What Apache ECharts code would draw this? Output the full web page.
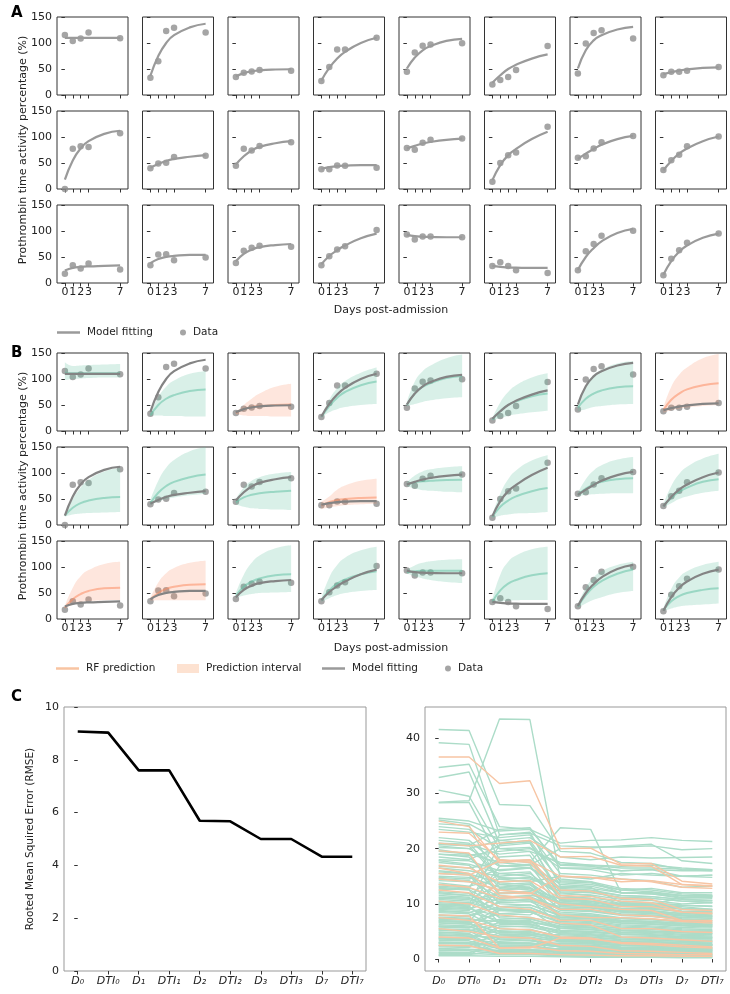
<!DOCTYPE html>
<html><head><meta charset="utf-8">
<script src="https://cdn.jsdelivr.net/npm/echarts@6/dist/echarts.min.js"></script>
<style>html,body{margin:0;padding:0;background:#fff}#c{width:730px;height:994px}</style>
</head><body><div id="c"></div>
<script>
// ---------- data ----------
const days = [0, 1, 2, 3, 7];
const fitX = [0, 1, 2, 3, 5, 7];
const dayTicks = [0, 1, 2, 3, 7];
const yTicks = [0, 50, 100, 150];

// 24 patients, row-major (3 rows x 8 columns); measured values at days 0,1,2,3,7
const dataPts = [
  [115.5, 104, 108.5, 120, 109], [33, 65, 123, 129.5, 120], [34.5, 43, 45, 48, 46.5], [27, 54, 87.5, 87.5, 110],
  [44.7, 81.7, 94.5, 97, 99.6], [20.4, 28.7, 34.5, 48, 94], [41.5, 99, 119, 124.5, 108.5], [38, 44.7, 44.7, 46.6, 54],
  [0, 77.5, 82, 80.6, 107], [39.7, 49, 50.4, 61.7, 64], [44.7, 77.5, 74, 82.5, 90], [37.8, 37.8, 45.4, 44.7, 41],
  [78.8, 75.6, 88.8, 94.5, 97], [13.9, 49.8, 65, 70, 119.7], [60, 63, 78, 90, 102], [36.5, 55.4, 66, 82, 101],
  [18, 34, 27.7, 37.4, 25.8], [34, 54.7, 55.4, 43.8, 49], [38.6, 61.8, 67.6, 71.5, 69.5], [34, 51.5, 64.4, 70.8, 101.8],
  [93.4, 83.7, 89.5, 89.5, 88.2], [32.8, 40, 32.8, 24.5, 19.3], [24.5, 61, 75, 91, 100.5], [14.8, 46.4, 63, 77.3, 95.3]
];
// model fitting curve read at fitX
const fitVals = [
  [110, 110, 110, 110, 110, 110], [37, 75, 100, 115, 130, 137], [36, 42, 45.5, 47.5, 49, 49.5], [28, 52, 70, 83, 100, 110],
  [51, 72, 86, 94, 104, 108], [23.5, 38, 50, 58, 70, 78], [51, 86, 105, 115, 126, 131], [40, 44, 47, 49, 52, 53],
  [18, 55, 78, 92, 106, 112], [41, 48, 54, 58, 62, 65], [47, 63, 74, 81, 88, 92], [39, 42, 44, 45, 46, 46],
  [78, 83, 87.5, 90.5, 94.5, 97], [17, 46, 65, 77, 96, 110], [58, 68, 77, 85, 96, 102], [36, 54, 68, 78, 92, 101],
  [24, 29, 31, 32, 33, 34], [38, 46, 50, 52, 54, 54], [42, 56, 64, 69, 73, 75], [36, 52, 63, 72, 86, 95],
  [93, 90, 89, 88.5, 88, 88], [33, 31, 30, 29.5, 29, 29], [25, 50, 67, 80, 96, 104], [16, 42, 60, 72, 87, 95]
];
const predColor = ['g','g','o','g','g','g','g','o', 'g','g','g','o','g','g','g','g', 'o','o','g','g','g','g','g','g'];
const predVals = [
  [112, 111, 111, 111, 111, 111], [30, 50, 62, 69, 77, 80], [35, 42, 46, 48, 50, 51], [27, 48, 64, 75, 88, 95],
  [50, 72, 85, 92, 102, 106], [22, 38, 50, 57, 67, 72], [45, 62, 72, 78, 84, 86], [40, 60, 72, 80, 88, 92],
  [18, 33, 42, 47, 52, 54], [42, 62, 75, 83, 92, 97], [44, 53, 58, 61, 64, 66], [38, 44, 48, 50, 52, 53],
  [78, 82, 84, 85, 86.5, 87], [16, 35, 47, 55, 65, 71], [58, 70, 78, 83, 88, 90], [36, 52, 64, 72, 83, 88],
  [22, 38, 48, 54, 59, 60], [38, 50, 58, 62, 66, 67], [45, 62, 72, 78, 84, 86], [36, 55, 68, 76, 86, 92],
  [90, 92, 93, 93, 93, 93], [33, 55, 68, 75, 84, 88], [24, 46, 62, 73, 87, 95], [17, 34, 44, 50, 56, 59]
];
const predLo = [
  [98, 100, 101, 102, 103, 103], [30, 30, 29, 29, 28, 28], [32, 30, 29, 29, 28, 28], [26, 36, 42, 46, 50, 52],
  [48, 52, 56, 59, 63, 65], [20, 25, 29, 32, 36, 39], [38, 42, 46, 48, 51, 52], [35, 40, 43, 45, 48, 50],
  [16, 20, 22, 23, 24, 25], [38, 45, 50, 53, 57, 60], [40, 35, 32, 31, 30, 29], [30, 34, 36, 38, 40, 41],
  [75, 70, 67, 66, 64, 63], [14, 18, 20, 22, 23, 25], [55, 58, 59, 60, 61, 61], [34, 42, 50, 55, 62, 66],
  [20, 28, 32, 34, 36, 36.5], [35, 36, 36, 36, 36, 36], [40, 45, 48, 50, 51, 52], [33, 40, 46, 50, 54, 56],
  [88, 82, 78, 75, 71, 69], [30, 33, 35, 36, 36.5, 36.5], [22, 30, 37, 42, 50, 54], [15, 20, 24, 26, 28, 30]
];
const predHi = [
  [132, 125, 126, 127, 128, 129], [35, 65, 85, 97, 110, 115], [35, 50, 62, 72, 85, 91], [28, 60, 82, 96, 112, 122],
  [55, 95, 115, 126, 140, 147], [25, 55, 75, 88, 103, 111], [55, 88, 108, 118, 130, 134], [45, 85, 108, 122, 140, 148],
  [22, 50, 72, 87, 103, 110], [48, 85, 110, 125, 142, 150], [50, 72, 85, 92, 99, 102], [45, 55, 68, 76, 85, 89],
  [82, 95, 103, 107, 111, 113], [20, 60, 88, 105, 124, 134], [62, 88, 105, 115, 126, 131], [40, 75, 98, 112, 128, 137],
  [25, 60, 82, 94, 106, 110], [40, 70, 88, 98, 108, 112], [50, 85, 108, 122, 136, 142], [40, 80, 104, 118, 132, 139],
  [95, 103, 108, 111, 114, 115], [38, 85, 110, 122, 134, 139], [28, 60, 80, 92, 104, 110], [20, 58, 80, 92, 104, 110]
];

// Panel C
const rmseCats = ['D\u2080','DTI\u2080','D\u2081','DTI\u2081','D\u2082','DTI\u2082','D\u2083','DTI\u2083','D\u2087','DTI\u2087'];
const rmseMean = [9.07, 9.03, 7.6, 7.6, 5.69, 5.67, 5.0, 5.0, 4.33, 4.33];
const rmseTicksRight = [0, 10, 20, 30, 40];
const rmseGreen = [
  [41.6, 41.4, 28.0, 27.8, 19.5, 19.2, 17.5, 17.3, 16.2, 16.0],
  [39.2, 38.9, 22.5, 22.8, 20.5, 20.3, 20.3, 20.5, 19.8, 20.0],
  [34.7, 35.3, 24.0, 23.5, 17.0, 16.8, 16.0, 16.2, 15.0, 15.2],
  [32.9, 33.9, 21.0, 21.5, 14.0, 13.8, 12.5, 12.8, 12.0, 12.0],
  [30.6, 29.5, 20.0, 19.5, 12.5, 12.2, 11.0, 11.0, 10.5, 10.2],
  [28.4, 28.7, 43.5, 43.4, 14.5, 14.0, 12.0, 11.8, 11.0, 11.2],
  [28.3, 28.4, 18.0, 17.5, 23.8, 23.5, 12.0, 11.8, 11.5, 11.3],
  [25.5, 25.0, 23.2, 23.5, 21.0, 21.5, 21.6, 22.0, 21.5, 21.3],
  [25.2, 24.5, 21.5, 22.0, 18.5, 18.0, 18.5, 18.3, 18.4, 18.5],
  [24.0, 23.5, 20.0, 20.2, 16.5, 16.5, 16.0, 16.2, 16.0, 16.0],
  [21.0, 20.8, 19.0, 19.5, 17.5, 17.0, 16.5, 16.5, 16.3, 16.2],
  [20.8, 20.5, 14.5, 14.0, 15.0, 14.5, 15.5, 15.2, 15.0, 15.2],
  [20.5, 20.0, 21.5, 21.0, 12.0, 11.5, 10.0, 9.8, 9.5, 9.0],
  [19.8, 19.0, 17.5, 17.0, 20.0, 20.1, 20.5, 20.8, 17.8, 17.3],
  [19.0, 18.5, 13.0, 12.5, 11.0, 10.5, 9.8, 9.5, 9.2, 9.0],
  [18.0, 17.8, 16.0, 16.5, 13.0, 12.8, 12.0, 12.0, 11.5, 11.5],
  [17.5, 17.0, 12.0, 12.2, 10.0, 9.8, 8.5, 8.2, 8.0, 7.8],
  [16.5, 16.0, 15.0, 15.5, 11.5, 11.0, 10.5, 10.2, 9.8, 9.5],
  [16.0, 15.5, 10.0, 9.8, 8.0, 7.8, 7.0, 6.8, 6.5, 6.3],
  [15.0, 14.8, 13.0, 13.5, 9.0, 8.8, 8.0, 7.8, 7.5, 7.4],
  [14.2, 14.0, 12.5, 12.8, 9.8, 9.6, 8.8, 8.6, 8.3, 8.2],
  [13.8, 13.2, 14.5, 14.8, 11.8, 11.6, 10.8, 10.6, 10.0, 10.2],
  [13.0, 12.6, 9.5, 9.3, 7.2, 7.0, 6.5, 6.3, 6.0, 5.8],
  [12.5, 12.8, 22.5, 23.0, 13.2, 13.0, 10.2, 10.0, 9.2, 9.0],
  [12.0, 11.5, 10.5, 10.8, 8.5, 8.2, 7.5, 7.2, 6.8, 6.5],
  [11.5, 11.2, 7.5, 7.2, 6.0, 5.8, 5.2, 5.0, 4.8, 4.6],
  [11.0, 10.8, 13.5, 13.8, 10.2, 10.0, 9.0, 9.2, 8.6, 8.5],
  [10.5, 10.2, 8.8, 8.5, 6.8, 6.6, 6.0, 5.8, 5.5, 5.3],
  [10.0, 9.8, 20.8, 21.3, 11.2, 11.0, 8.8, 8.6, 8.0, 7.8],
  [9.6, 9.3, 6.5, 6.3, 5.0, 4.8, 4.5, 4.3, 4.0, 3.9],
  [9.2, 9.0, 11.0, 11.3, 9.2, 9.0, 8.2, 8.0, 7.6, 7.4],
  [8.8, 8.5, 7.0, 6.8, 5.5, 5.3, 4.8, 4.6, 4.3, 4.2],
  [8.4, 8.2, 5.5, 5.2, 4.2, 4.0, 3.6, 3.5, 3.2, 3.1],
  [8.0, 7.8, 9.5, 9.8, 7.8, 7.6, 7.0, 6.8, 6.4, 6.2],
  [7.6, 7.4, 6.0, 5.8, 4.6, 4.4, 3.9, 3.8, 3.5, 3.4],
  [7.2, 7.0, 4.5, 4.3, 3.5, 3.3, 3.0, 2.9, 2.7, 2.6],
  [6.8, 6.6, 8.2, 8.5, 6.6, 6.4, 5.8, 5.6, 5.3, 5.2],
  [6.5, 6.3, 5.0, 4.8, 3.8, 3.6, 3.2, 3.1, 2.9, 2.8],
  [6.2, 6.0, 3.6, 3.4, 2.8, 2.7, 2.4, 2.3, 2.1, 2.0],
  [5.8, 5.6, 7.2, 7.4, 5.6, 5.4, 4.9, 4.8, 4.5, 4.4],
  [5.5, 5.3, 4.2, 4.0, 3.1, 3.0, 2.6, 2.5, 2.3, 2.2],
  [5.2, 5.0, 2.8, 2.7, 2.2, 2.1, 1.9, 1.8, 1.7, 1.6],
  [4.9, 4.7, 6.2, 6.4, 4.8, 4.6, 4.2, 4.1, 3.8, 3.7],
  [4.6, 4.4, 3.5, 3.3, 2.6, 2.5, 2.2, 2.1, 1.9, 1.9],
  [4.3, 4.1, 2.2, 2.1, 1.7, 1.6, 1.4, 1.4, 1.3, 1.2],
  [4.0, 3.9, 5.2, 5.4, 4.0, 3.9, 3.5, 3.4, 3.2, 3.1],
  [3.7, 3.6, 2.9, 2.8, 2.2, 2.1, 1.8, 1.8, 1.6, 1.6],
  [3.4, 3.3, 1.8, 1.7, 1.4, 1.3, 1.1, 1.1, 1.0, 1.0],
  [3.1, 3.0, 4.2, 4.4, 3.2, 3.1, 2.8, 2.7, 2.5, 2.5],
  [2.8, 2.7, 2.4, 2.3, 1.8, 1.7, 1.5, 1.5, 1.3, 1.3],
  [2.5, 2.4, 1.4, 1.3, 1.0, 1.0, 0.9, 0.8, 0.8, 0.7],
  [2.2, 2.1, 3.2, 3.4, 2.5, 2.4, 2.1, 2.0, 1.9, 1.8],
  [1.9, 1.8, 1.6, 1.5, 1.2, 1.1, 1.0, 0.9, 0.9, 0.8],
  [1.6, 1.5, 0.9, 0.9, 0.7, 0.7, 0.6, 0.6, 0.5, 0.5],
  [1.3, 1.2, 2.3, 2.4, 1.8, 1.7, 1.5, 1.4, 1.3, 1.3],
  [1.0, 1.0, 0.8, 0.8, 0.6, 0.5, 0.5, 0.4, 0.4, 0.4],
  [0.8, 0.8, 1.5, 1.6, 1.2, 1.1, 0.9, 0.9, 0.8, 0.8],
  [0.6, 0.6, 0.5, 0.5, 0.4, 0.3, 0.3, 0.3, 0.2, 0.2],
  [0.7, 0.7, 3.8, 3.9, 0.5, 0.5, 0.4, 0.4, 0.3, 0.3],
  [17.8, 17.2, 15.5, 15.0, 12.2, 12.0, 11.2, 11.0, 10.5, 10.3],
  [18.5, 18.0, 20.5, 21.0, 14.2, 14.0, 12.8, 12.5, 11.8, 11.6],
  [19.5, 19.0, 11.5, 11.0, 9.5, 9.3, 8.5, 8.3, 7.8, 7.6],
  [20.2, 20.0, 16.8, 17.2, 13.5, 13.2, 12.0, 11.8, 11.2, 11.0],
  [16.8, 16.5, 17.5, 18.0, 10.8, 10.5, 9.8, 9.6, 9.0, 8.8],
  [15.5, 15.2, 9.0, 8.8, 7.5, 7.3, 6.8, 6.6, 6.2, 6.0],
  [14.8, 14.5, 16.2, 16.5, 12.5, 12.3, 11.5, 11.3, 10.8, 10.6],
  [13.5, 13.0, 18.5, 18.8, 10.5, 10.2, 9.5, 9.3, 8.5, 8.4],
  [12.8, 12.5, 6.5, 6.2, 5.2, 5.0, 4.6, 4.4, 4.0, 3.9],
  [11.8, 11.5, 15.5, 15.8, 9.5, 9.3, 8.6, 8.4, 7.9, 7.7],
  [10.8, 10.5, 12.0, 12.3, 8.0, 7.8, 7.3, 7.1, 6.7, 6.6],
  [9.9, 9.6, 4.8, 4.6, 3.8, 3.6, 3.3, 3.2, 3.0, 2.9],
  [9.0, 8.8, 14.0, 14.2, 7.0, 6.8, 6.2, 6.0, 5.7, 5.6],
  [7.9, 7.7, 10.5, 10.8, 6.2, 6.0, 5.5, 5.4, 5.1, 5.0],
  [6.9, 6.7, 3.0, 2.9, 2.4, 2.3, 2.1, 2.0, 1.9, 1.8],
  [5.9, 5.7, 8.8, 9.0, 5.2, 5.0, 4.5, 4.4, 4.1, 4.0],
  [4.8, 4.6, 1.8, 1.7, 1.5, 1.4, 1.2, 1.2, 1.1, 1.0],
  [3.8, 3.7, 6.8, 7.0, 3.6, 3.4, 3.0, 2.9, 2.7, 2.6],
  [2.9, 2.8, 1.2, 1.1, 0.9, 0.9, 0.8, 0.7, 0.7, 0.6],
  [22.0, 21.5, 17.0, 16.5, 13.8, 13.5, 12.5, 12.2, 11.5, 11.4],
  [23.5, 23.0, 22.0, 22.5, 15.5, 15.2, 14.5, 14.2, 13.0, 13.2],
  [24.5, 24.2, 13.5, 13.0, 10.0, 9.8, 9.0, 8.8, 8.2, 8.0],
  [20.8, 20.6, 23.5, 23.8, 16.5, 16.2, 15.2, 15.5, 15.0, 14.8],
  [19.0, 18.8, 19.5, 20.0, 17.2, 17.0, 16.8, 17.0, 16.5, 16.2],
  [21.5, 21.0, 14.8, 14.5, 12.8, 12.5, 11.5, 11.3, 10.8, 10.6],
  [11.2, 11.0, 9.0, 8.7, 7.6, 7.4, 6.9, 6.7, 6.4, 6.2],
  [10.2, 10.0, 11.8, 12.0, 8.8, 8.6, 7.9, 7.7, 7.3, 7.1],
  [9.4, 9.1, 7.8, 7.6, 6.3, 6.1, 5.6, 5.4, 5.1, 5.0],
  [8.6, 8.4, 10.2, 10.4, 8.2, 8.0, 7.4, 7.2, 6.9, 6.8],
  [7.4, 7.2, 6.8, 6.6, 5.9, 5.7, 5.3, 5.1, 4.9, 4.7],
  [6.6, 6.4, 9.2, 9.4, 7.2, 7.0, 6.5, 6.3, 6.0, 5.9],
  [6.0, 5.8, 4.6, 4.4, 4.4, 4.2, 3.8, 3.7, 3.4, 3.3],
  [5.3, 5.1, 6.6, 6.8, 5.8, 5.6, 5.1, 5.0, 4.7, 4.6],
  [4.4, 4.2, 3.9, 3.7, 3.3, 3.2, 2.9, 2.8, 2.6, 2.5],
  [3.6, 3.5, 5.8, 6.0, 4.6, 4.4, 4.0, 3.9, 3.7, 3.6],
  [3.0, 2.9, 2.6, 2.5, 2.9, 2.8, 2.5, 2.4, 2.2, 2.1],
  [2.4, 2.3, 4.8, 5.0, 3.4, 3.3, 3.0, 2.9, 2.7, 2.6],
  [1.8, 1.7, 1.2, 1.1, 2.0, 1.9, 1.7, 1.6, 1.5, 1.4],
  [1.2, 1.1, 2.8, 2.9, 2.2, 2.1, 1.9, 1.8, 1.7, 1.6],
  [12.2, 11.9, 8.2, 8.0, 10.6, 10.4, 9.6, 9.4, 9.1, 8.9],
  [13.2, 12.9, 10.8, 10.5, 9.2, 9.0, 10.2, 10.0, 9.7, 9.6],
  [14.6, 14.2, 11.2, 11.5, 11.0, 10.8, 10.0, 9.8, 11.2, 11.4],
  [15.8, 15.4, 13.8, 13.5, 10.2, 10.0, 9.2, 9.0, 8.7, 8.6],
  [9.8, 9.5, 16.8, 17.0, 9.8, 9.6, 8.0, 7.8, 7.2, 7.0],
  [7.0, 6.8, 12.8, 13.0, 7.5, 7.3, 6.6, 6.4, 6.1, 6.0]
];
const rmseOrange = [
  [36.6, 36.6, 31.8, 32.3, 20.0, 20.1, 17.2, 17.3, 14.1, 13.6],
  [25.0, 24.0, 17.5, 17.8, 15.0, 14.8, 14.0, 14.2, 13.5, 13.2],
  [23.0, 22.8, 18.0, 17.5, 11.5, 11.3, 10.5, 10.2, 8.5, 8.3],
  [21.0, 20.5, 21.0, 21.5, 18.5, 18.6, 17.0, 16.8, 13.5, 13.3],
  [19.6, 19.2, 12.0, 11.8, 15.0, 14.8, 14.5, 14.0, 13.0, 12.8],
  [17.0, 16.5, 14.0, 14.2, 11.0, 10.8, 9.5, 9.5, 8.5, 8.2],
  [16.5, 15.5, 11.5, 11.0, 9.0, 9.0, 8.0, 7.8, 7.0, 6.8],
  [14.5, 14.0, 12.5, 12.0, 10.0, 9.5, 9.0, 8.8, 7.0, 7.0],
  [13.5, 13.0, 11.0, 11.2, 8.0, 7.5, 7.5, 7.3, 6.8, 6.5],
  [12.5, 12.0, 9.5, 9.0, 7.0, 7.0, 5.5, 5.5, 5.0, 4.8],
  [10.5, 10.0, 8.0, 7.5, 6.5, 6.2, 4.0, 3.8, 3.5, 3.2],
  [8.0, 7.8, 2.0, 2.0, 3.8, 3.6, 3.0, 2.8, 2.5, 2.2],
  [7.5, 7.0, 5.5, 5.3, 4.0, 3.8, 2.8, 2.6, 2.2, 2.0],
  [5.5, 5.0, 4.0, 3.8, 2.5, 2.3, 1.5, 1.4, 1.2, 1.0],
  [4.0, 3.8, 2.0, 2.2, 1.5, 1.4, 1.0, 0.9, 0.8, 0.8],
  [2.5, 2.4, 1.0, 1.0, 0.8, 0.7, 0.6, 0.6, 0.5, 0.5],
  [15.5, 15.2, 17.8, 18.0, 12.5, 12.3, 11.0, 10.8, 9.0, 8.8]
];

// ---------- build ----------
const FONT = 'DejaVu Sans';
const TXT = '#222';
const GREEN_FILL = 'rgba(102,194,165,0.25)', GREEN_LINE = 'rgba(102,194,165,0.55)';
const ORANGE_FILL = 'rgba(252,141,98,0.22)', ORANGE_LINE = 'rgba(252,141,98,0.55)';
const grids = [], xAxes = [], yAxes = [], series = [];
const COLW = 85.5, PW = 71, PH = 78, ROWH = 94;
const SM = 0.5;

function addPanel(block, p) {
  const r = Math.floor(p / 8), c = p % 8;
  const gi = grids.length;
  grids.push({ left: 57 + c * COLW, top: (block === 0 ? 17 : 353) + r * ROWH, width: PW, height: PH,
    show: true, borderColor: '#333', borderWidth: 1 });
  xAxes.push({ gridIndex: gi, type: 'value', min: -1, max: 8,
    axisLine: { show: false }, splitLine: { show: false },
    axisTick: { show: true, customValues: dayTicks, length: 3.5, lineStyle: { color: '#333' } },
    axisLabel: { show: r === 2, customValues: dayTicks, fontSize: 11, color: TXT, fontFamily: FONT, margin: 4 } });
  yAxes.push({ gridIndex: gi, type: 'value', min: 0, max: 150, interval: 50,
    axisLine: { show: false }, splitLine: { show: false },
    axisTick: { show: true, length: 3.5, lineStyle: { color: '#333' } },
    axisLabel: { show: c === 0, fontSize: 11, color: TXT, fontFamily: FONT, margin: 5 } });
  const lineCol = block === 0 ? '#9a9a9a' : '#848484';
  if (block === 1) {
    const g = predColor[p] === 'g';
    // band: lower bound + (upper - lower) stacked on the value dimension (dimension 0 = y)
    series.push({ type: 'line', name: 'lo', xAxisIndex: gi, yAxisIndex: gi, stack: 'band' + p, silent: true,
      encode: { x: 1, y: 0 },
      data: fitX.map((x, i) => [predLo[p][i], x]), smooth: SM, showSymbol: false,
      lineStyle: { opacity: 0 } });
    series.push({ type: 'line', name: 'Prediction interval', xAxisIndex: gi, yAxisIndex: gi, stack: 'band' + p, silent: true,
      encode: { x: 1, y: 0 },
      data: fitX.map((x, i) => [predHi[p][i] - predLo[p][i], x]), smooth: SM, showSymbol: false,
      lineStyle: { opacity: 0 }, areaStyle: { color: g ? GREEN_FILL : ORANGE_FILL, opacity: 1 },
      itemStyle: { color: g ? GREEN_FILL : ORANGE_FILL } });
    series.push({ type: 'line', name: 'RF prediction', xAxisIndex: gi, yAxisIndex: gi, silent: true,
      data: fitX.map((x, i) => [x, predVals[p][i]]), smooth: SM, showSymbol: false,
      lineStyle: { color: g ? GREEN_LINE : ORANGE_LINE, width: 2 }, itemStyle: { color: g ? GREEN_LINE : ORANGE_LINE } });
  }
  series.push({ type: 'line', name: 'Model fitting', xAxisIndex: gi, yAxisIndex: gi, silent: true,
    data: fitX.map((x, i) => [x, fitVals[p][i]]), smooth: SM, showSymbol: false,
    lineStyle: { color: lineCol, width: 2.2 }, itemStyle: { color: lineCol } });
  series.push({ type: 'scatter', name: 'Data', xAxisIndex: gi, yAxisIndex: gi, silent: true,
    data: days.map((d, i) => [d, dataPts[p][i]]), symbolSize: 6.5, itemStyle: { color: '#8e8e8e' } });
}
for (let b = 0; b < 2; b++) for (let p = 0; p < 24; p++) addPanel(b, p);

// Panel C left
const catIdx = rmseCats.map((_, i) => i);
function cXAxis(gi) {
  return { gridIndex: gi, type: 'value', min: -0.45, max: 9.45,
    axisLine: { show: false }, splitLine: { show: false },
    axisTick: { show: true, customValues: catIdx, length: 3.5, lineStyle: { color: '#333' } },
    axisLabel: { customValues: catIdx, formatter: v => rmseCats[Math.round(v)], fontStyle: 'italic',
      fontSize: 11, color: TXT, fontFamily: FONT, margin: 5 } };
}
let gL = grids.length;
grids.push({ left: 64, top: 707, width: 302, height: 264, show: true, borderColor: '#999', borderWidth: 1 });
xAxes.push(cXAxis(gL));
yAxes.push({ gridIndex: gL, type: 'value', min: 0, max: 10, interval: 2,
  axisLine: { show: false }, splitLine: { show: false },
  axisTick: { show: true, length: 3.5, lineStyle: { color: '#333' } },
  axisLabel: { fontSize: 11, color: TXT, fontFamily: FONT, margin: 5 } });
series.push({ type: 'line', name: 'rmse', xAxisIndex: gL, yAxisIndex: gL, silent: true,
  data: rmseMean.map((v, i) => [i, v]), showSymbol: false, lineStyle: { color: '#000', width: 2.6 } });

// Panel C right
let gR = grids.length;
grids.push({ left: 425, top: 707, width: 301, height: 264, show: true, borderColor: '#999', borderWidth: 1 });
xAxes.push(cXAxis(gR));
yAxes.push({ gridIndex: gR, type: 'value', min: -2.17, max: 45.67,
  axisLine: { show: false }, splitLine: { show: false },
  axisTick: { show: true, customValues: rmseTicksRight, length: 3.5, lineStyle: { color: '#333' } },
  axisLabel: { customValues: rmseTicksRight, fontSize: 11, color: TXT, fontFamily: FONT, margin: 5 } });
rmseGreen.forEach((arr, k) => series.push({ type: 'line', name: 'g' + k, xAxisIndex: gR, yAxisIndex: gR, silent: true,
  data: arr.map((v, i) => [i, v]), showSymbol: false, lineStyle: { color: '#acdcc8', width: 1.4 } }));
rmseOrange.forEach((arr, k) => series.push({ type: 'line', name: 'o' + k, xAxisIndex: gR, yAxisIndex: gR, silent: true,
  data: arr.map((v, i) => [i, v]), showSymbol: false, lineStyle: { color: '#f7c5a4', width: 1.4 } }));

const legTxt = { fontSize: 10.5, color: TXT, fontFamily: FONT, padding: [0, 0, 0, 2] };
function leg(left, top, name, icon, w, h, color) {
  return { left, top, padding: 0, itemWidth: w, itemHeight: h, selectedMode: false, textStyle: legTxt,
    data: [{ name, icon, itemStyle: { color, borderWidth: 0 } }] };
}
const legends = [
  leg(57, 327, 'Model fitting', 'rect', 23, 2.5, '#9a9a9a'),
  leg(180, 327, 'Data', 'circle', 6, 6, '#8e8e8e'),
  leg(56, 663, 'RF prediction', 'rect', 23, 2.5, '#f8c4a2'),
  leg(177, 663, 'Prediction interval', 'rect', 22, 9, '#fde2d1'),
  leg(322, 663, 'Model fitting', 'rect', 23, 2.5, '#9a9a9a'),
  leg(445, 663, 'Data', 'circle', 6, 6, '#8e8e8e')
];

function txt(x, y, text, size, opts) {
  return Object.assign({ type: 'text', x, y, silent: true,
    style: Object.assign({ text, font: size + 'px "DejaVu Sans"', fill: TXT, textAlign: 'center', textVerticalAlign: 'middle',
      align: 'center', verticalAlign: 'middle' }, (opts && opts.style) || {}) }, (opts && opts.el) || {});
}
const graphics = [
  txt(11, 13, 'A', 15, { style: { font: 'bold 15px "DejaVu Sans"', fill: '#000', textAlign: 'left', align: 'left' } }),
  txt(11, 353, 'B', 15, { style: { font: 'bold 15px "DejaVu Sans"', fill: '#000', textAlign: 'left', align: 'left' } }),
  txt(11, 697, 'C', 15, { style: { font: 'bold 15px "DejaVu Sans"', fill: '#000', textAlign: 'left', align: 'left' } }),
  txt(23, 150, 'Prothrombin time activity percentage (%)', 11, { el: { rotation: Math.PI / 2 } }),
  txt(23, 486, 'Prothrombin time activity percentage (%)', 11, { el: { rotation: Math.PI / 2 } }),
  txt(391, 310, 'Days post-admission', 11),
  txt(391, 648, 'Days post-admission', 11),
  txt(30, 839, 'Rooted Mean Squired Error (RMSE)', 10.5, { el: { rotation: Math.PI / 2 } })
];

const chart = echarts.init(document.getElementById('c'));
chart.setOption({
  animation: false,
  backgroundColor: '#fff',
  grid: grids, xAxis: xAxes, yAxis: yAxes, series,
  legend: legends,
  graphic: graphics
});
</script></body></html>
